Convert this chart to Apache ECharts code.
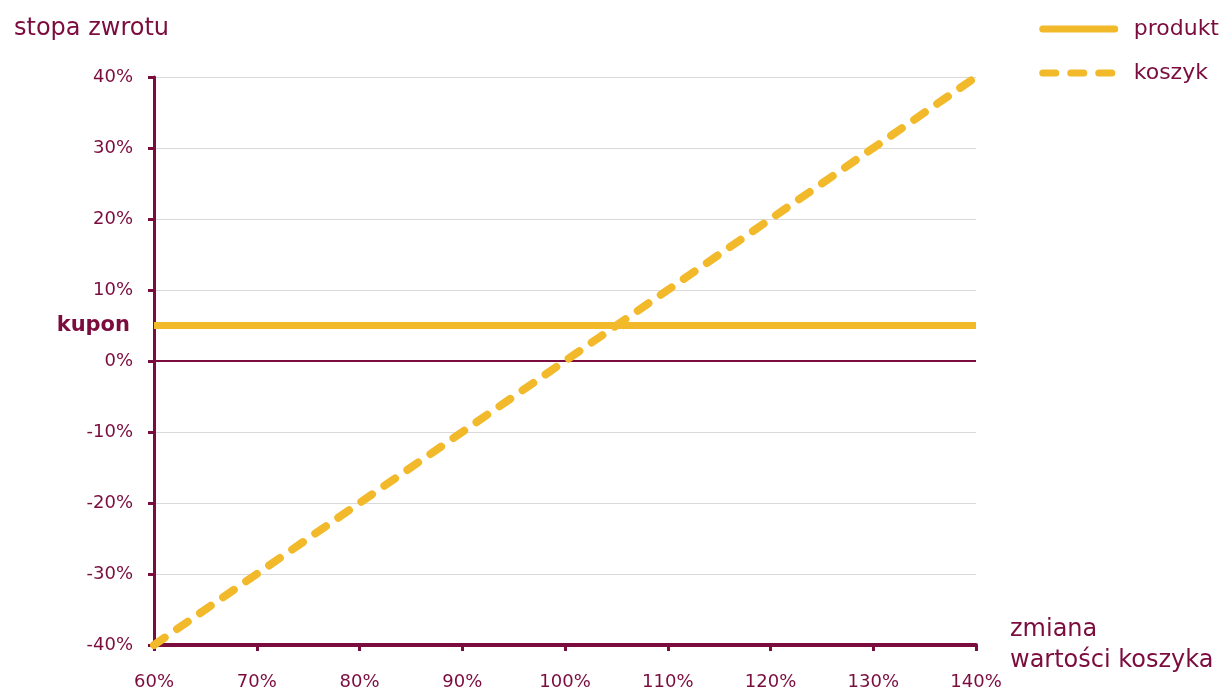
<!DOCTYPE html>
<html><head><meta charset="utf-8">
<script src="https://cdn.jsdelivr.net/npm/echarts@6/dist/echarts.min.js"></script>
<style>html,body{margin:0;padding:0;background:#fff}#c{width:1226px;height:691px}</style>
</head><body><div id="c"></div>
<script>
const xValues = [60, 140];
const produktValues = [5, 5];
const koszykValues = [-40, 40];
const couponLevel = 5;
const yTicks = [-40, -30, -20, -10, 0, 10, 20, 30, 40];
const xTicks = [60, 70, 80, 90, 100, 110, 120, 130, 140];

const MAROON = '#7b0c3e';
const GOLD = '#f2b92b';
const FONT = 'DejaVu Sans';

const chart = echarts.init(document.getElementById('c'));
chart.setOption({
  animation: false,
  textStyle: {fontFamily: FONT},
  title: {
    text: 'stopa zwrotu', left: 9, top: 12,
    textStyle: {color: MAROON, fontSize: 24, fontWeight: 'normal', fontFamily: FONT}
  },
  legend: {
    orient: 'vertical', right: 2, top: 13, itemGap: 22,
    itemWidth: 72, itemHeight: 24,
    itemStyle: {opacity: 0},
    lineStyle: {width: 7, cap: 'round'},
    textStyle: {color: MAROON, fontSize: 22, fontFamily: FONT, padding: [0, 0, 0, 14]},
    data: ['produkt', 'koszyk']
  },
  grid: {left: 154, right: 250, top: 77, bottom: 45, containLabel: false},
  xAxis: {
    type: 'value', min: xTicks[0], max: xTicks[xTicks.length - 1], interval: 10,
    name: 'zmiana\nwartości koszyka', nameLocation: 'end', nameGap: 34,
    nameTextStyle: {color: MAROON, fontSize: 24, align: 'left', verticalAlign: 'middle', lineHeight: 31, padding: [0, 0, 22, 0]},
    axisLine: {onZero: false, lineStyle: {color: MAROON, width: 4}},
    axisTick: {show: true, length: 6, lineStyle: {color: MAROON, width: 3}},
    axisLabel: {color: MAROON, fontSize: 18, margin: 28, formatter: '{value}%'},
    splitLine: {show: false}
  },
  yAxis: {
    type: 'value', min: yTicks[0], max: yTicks[yTicks.length - 1], interval: 10,
    axisLine: {show: true, lineStyle: {color: MAROON, width: 3}},
    axisTick: {show: true, length: 6, lineStyle: {color: MAROON, width: 3}},
    axisLabel: {color: MAROON, fontSize: 18, margin: 21, formatter: '{value}%'},
    splitLine: {show: true, lineStyle: {color: '#d9d9d9', width: 1}}
  },
  series: [
    {
      name: 'produkt', type: 'line', symbol: 'none', z: 3,
      data: xValues.map((x, i) => [x, produktValues[i]]),
      lineStyle: {color: GOLD, width: 7},
      itemStyle: {color: GOLD},
      markLine: {
        silent: true, symbol: 'none', z: 1,
        data: [
          {yAxis: 0, lineStyle: {color: MAROON, width: 2, type: 'solid'}, label: {show: false}},
          {yAxis: couponLevel, lineStyle: {color: 'rgba(0,0,0,0)', width: 0}, label: {show: true, position: 'start', formatter: 'kupon', color: MAROON, fontSize: 21, fontWeight: 'bold', distance: 24, fontFamily: FONT}}
        ]
      }
    },
    {
      name: 'koszyk', type: 'line', symbol: 'none', z: 4,
      data: xValues.map((x, i) => [x, koszykValues[i]]),
      lineStyle: {color: GOLD, width: 8, type: [13, 15], cap: 'round'},
      itemStyle: {color: GOLD}
    }
  ]
});
</script></body></html>
